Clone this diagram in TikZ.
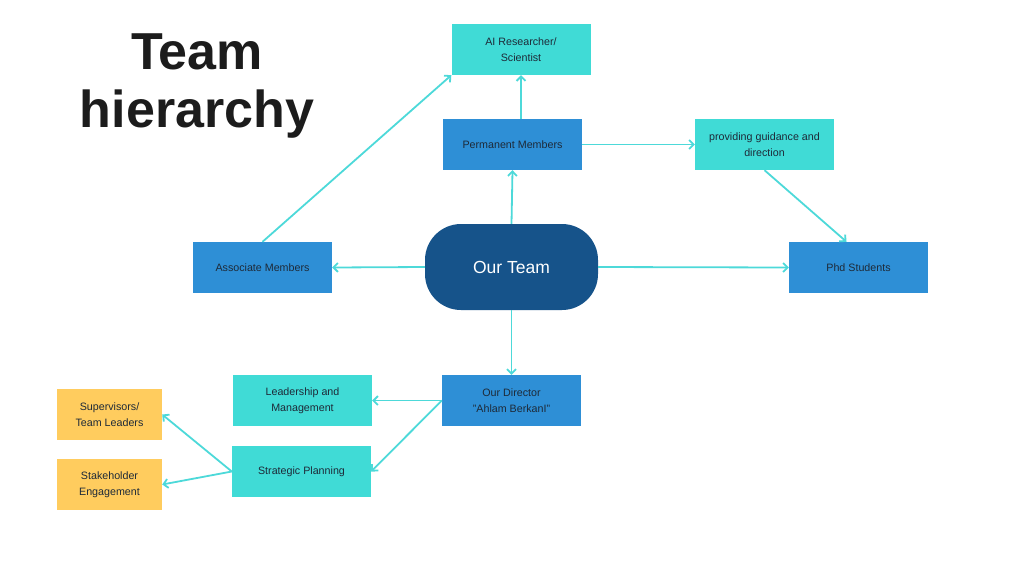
\documentclass[tikz,border=0pt]{standalone}
\usepackage{fontspec}
\setmainfont{Liberation Sans}
\usepackage{tikz}
\usetikzlibrary{positioning}
\usetikzlibrary{arrows.meta}
\usepackage{xcolor}

\definecolor{tealbox}{HTML}{40DBD6}
\definecolor{bluebox}{HTML}{2E8FD6}
\definecolor{navybox}{HTML}{16538A}
\definecolor{yellowbox}{HTML}{FFCC5E}
\definecolor{linkcol}{HTML}{4DD9D9}
\definecolor{textcol}{HTML}{1E2A38}
\definecolor{titlecol}{HTML}{1C1C1C}

\begin{document}
\begin{tikzpicture}[x=1pt, y=-1pt]

\tikzset
  {
    box/.style=     {minimum width=139pt, minimum height=51pt, inner sep=0pt, align=center,
                     text=textcol, font=\fontsize{10.7}{16}\selectfont},
    tealBox/.style= {box, fill=tealbox},
    blueBox/.style= {box, fill=bluebox},
    yellowBox/.style={box, fill=yellowbox, minimum width=105pt},
    link/.style=    {linkcol, line width=1.8pt, -{Straight Barb[length=4.5pt,width=9pt]}}
  }

\useasboundingbox (0,0) rectangle (1024,576);

% title
\node[text=titlecol, font=\fontsize{52}{62}\bfseries] (titleA) at (197,52) {Team};
\node[text=titlecol, font=\fontsize{52}{62}\bfseries] (titleB) at (197,114) {hierarchy};

% centre
\node[fill=navybox, rounded corners=36pt, minimum width=173pt, minimum height=86pt,
      text=white, font=\fontsize{17.5}{20}\selectfont] (team) at (511.5,267) {Our Team};

% upper part
\node[tealBox] (ai) at (521,49.5) {AI Researcher/\\Scientist};
\node[blueBox] (perm) at (512.5,144.5) {Permanent Members};
\node[tealBox] (guide) at (764.5,144.5) {providing guidance and\\direction};
\node[blueBox] (assoc) at (262.5,267.5) {Associate Members};
\node[blueBox] (phd) at (858.5,267.5) {Phd Students};

% lower part
\node[blueBox] (dir) at (511.5,400.5) {Our Director\\"Ahlam BerkanI"};
\node[tealBox] (lead) at (302.5,400.5) {Leadership and\\Management};
\node[tealBox] (plan) at (301.5,471.5) {Strategic Planning};
\node[yellowBox] (sup) at (109.5,414.5) {Supervisors/\\Team Leaders};
\node[yellowBox] (stake) at (109.5,484.5) {Stakeholder\\Engagement};

% arrows
\draw[link] (team.north) -- (perm.south);
\draw[link] (ai.south |- perm.north) -- (ai.south);
\draw[link] (assoc.north) -- (ai.south west);
\draw[link] (perm.east) -- (guide.west);
\draw[link] (guide.south) -- ([xshift=-12pt]phd.north);
\draw[link] (team.west) -- (assoc.east);
\draw[link] (team.east) -- (phd.west);
\draw[link] (team.south) -- (dir.north);
\draw[link] (dir.west) -- (lead.east);
\draw[link] (dir.west) -- (plan.east);
\draw[link] (plan.west) -- (sup.east);
\draw[link] (plan.west) -- (stake.east);

\end{tikzpicture}
\end{document}
